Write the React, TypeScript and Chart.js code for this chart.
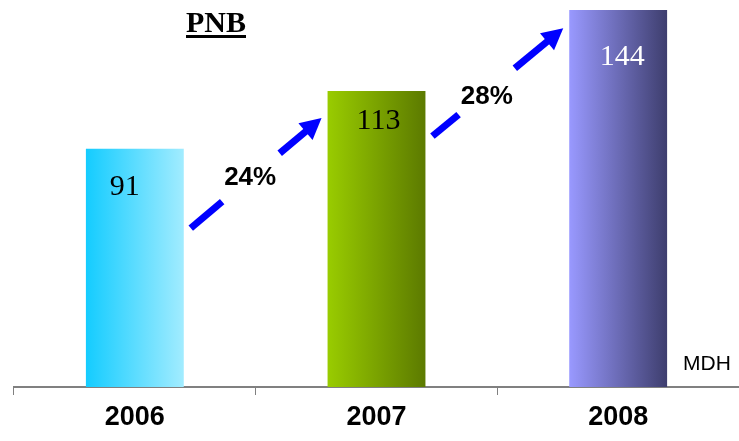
import React, { useEffect, useRef } from "react";
import { Chart, registerables } from "chart.js";

Chart.register(...registerables);

// Data
const years = ["2006", "2007", "2008"];
const pnbValues = [91, 113, 144];
const growthLabels = ["24%", "28%"];
// arrow anchor levels (value units) between consecutive bars
const arrowFrom = [60.7, 95.8];
const arrowTo = [102.7, 137];

// Styles
const gradientStops = [
  ["#14ccff", "#a2ecff"],
  ["#99cc00", "#5c7a00"],
  ["#9999ff", "#3e3e6e"],
];
const valueColors = ["#000000", "#000000", "#ffffff"];
const valueNudge = [
  [-10, 38],
  [2, 30],
  [4, 47],
];

const barPct = 0.405;

export default function App() {
  const ref = useRef<HTMLCanvasElement>(null);

  useEffect(() => {
    const canvas = ref.current!;
    const overlay = {
      id: "overlay",
      afterDatasetsDraw(chart: any) {
        const ctx = chart.ctx;
        const meta = chart.getDatasetMeta(0);
        const ys = chart.scales.y;
        ctx.save();
        // value labels
        ctx.textAlign = "center";
        ctx.textBaseline = "middle";
        ctx.font = "30px 'Liberation Serif', 'Times New Roman', serif";
        meta.data.forEach((bar: any, i: number) => {
          ctx.fillStyle = valueColors[i];
          ctx.fillText(String(pnbValues[i]), bar.x + valueNudge[i][0], bar.y + valueNudge[i][1]);
        });
        // arrows
        for (let i = 0; i < growthLabels.length; i++) {
          const a = meta.data[i];
          const b = meta.data[i + 1];
          const x0 = a.x + a.width / 2 + 7;
          const y0 = ys.getPixelForValue(arrowFrom[i]);
          const x1 = b.x - b.width / 2 - 6;
          const y1 = ys.getPixelForValue(arrowTo[i]);
          const dx = x1 - x0;
          const dy = y1 - y0;
          const len = Math.hypot(dx, dy);
          const ux = dx / len;
          const uy = dy / len;
          const head = 21;
          const hw = 11;
          ctx.strokeStyle = "#0000ff";
          ctx.fillStyle = "#0000ff";
          ctx.lineWidth = 7;
          ctx.lineCap = "butt";
          const seg = (f0: number, d1: number) => {
            ctx.beginPath();
            ctx.moveTo(x0 + ux * len * f0, y0 + uy * len * f0);
            ctx.lineTo(x0 + ux * d1, y0 + uy * d1);
            ctx.stroke();
          };
          const f1 = i === 0 ? 0.24 : 0.2;
          const f2 = i === 0 ? 0.68 : 0.63;
          seg(0, len * f1);
          seg(f2, len - head + 2);
          // head
          const bx = x1 - ux * head;
          const by = y1 - uy * head;
          ctx.beginPath();
          ctx.moveTo(x1, y1);
          ctx.lineTo(bx - uy * hw, by + ux * hw);
          ctx.lineTo(bx + uy * hw, by - ux * hw);
          ctx.closePath();
          ctx.fill();
          // label
          ctx.fillStyle = "#000000";
          ctx.font = "bold 26px 'Liberation Sans', Arial, sans-serif";
          ctx.textAlign = "center";
          ctx.textBaseline = "middle";
          const mx = (x0 + x1) / 2;
          const my = (y0 + y1) / 2;
          ctx.fillText(growthLabels[i], mx + (i === 0 ? -6 : -11), my + (i === 0 ? 5 : 15));
        }
        // unit
        ctx.font = "21px 'Liberation Sans', Arial, sans-serif";
        ctx.textAlign = "left";
        ctx.textBaseline = "middle";
        ctx.fillStyle = "#000000";
        ctx.fillText("MDH", 683, 364);
        // title
        ctx.font = "bold 30px 'Liberation Serif', 'Times New Roman', serif";
        ctx.textAlign = "center";
        ctx.textBaseline = "alphabetic";
        ctx.fillText("PNB", 216, 32);
        const tw = ctx.measureText("PNB").width;
        ctx.fillRect(216 - tw / 2, 35, tw, 3);
        ctx.restore();
      },
    };

    const chart = new Chart(canvas, {
      type: "bar",
      data: {
        labels: years,
        datasets: [
          {
            data: pnbValues,
            barPercentage: barPct,
            categoryPercentage: 1,
            borderWidth: 0,
            backgroundColor: (c: any) => {
              const ch = c.chart;
              const xs = ch.scales?.x;
              if (!ch.chartArea || !xs) return gradientStops[c.dataIndex % 3][0];
              const cx = xs.getPixelForValue(c.dataIndex);
              const w = (ch.chartArea.width / years.length) * barPct;
              const g = ch.ctx.createLinearGradient(cx - w / 2, 0, cx + w / 2, 0);
              const s = gradientStops[c.dataIndex];
              g.addColorStop(0, s[0]);
              g.addColorStop(1, s[1]);
              return g;
            },
          },
        ],
      },
      options: {
        responsive: false,
        animation: false,
        layout: { padding: { left: 14, right: 0, top: 0, bottom: 0 } },
        plugins: { legend: { display: false }, tooltip: { enabled: false }, title: { display: false } },
        scales: {
          y: { display: false, min: 0, max: 147.8 },
          x: {
            offset: true,
            grid: {
              offset: true,
              drawOnChartArea: false,
              drawTicks: true,
              tickLength: 8,
              color: "#808080",
              lineWidth: 1,
            },
            border: { display: true, color: "#808080", width: 2 },
            ticks: {
              color: "#000000",
              padding: 6.8,
              font: { family: "'Liberation Sans', Arial, sans-serif", size: 27, weight: "bold" },
            },
          },
        },
      },
      plugins: [overlay],
    });
    return () => chart.destroy();
  }, []);

  return (
    <div style={{ position: "absolute", left: 0, top: 0, width: 739, height: 441, background: "#fff" }}>
      <canvas ref={ref} width={739} height={441} />
    </div>
  );
}
